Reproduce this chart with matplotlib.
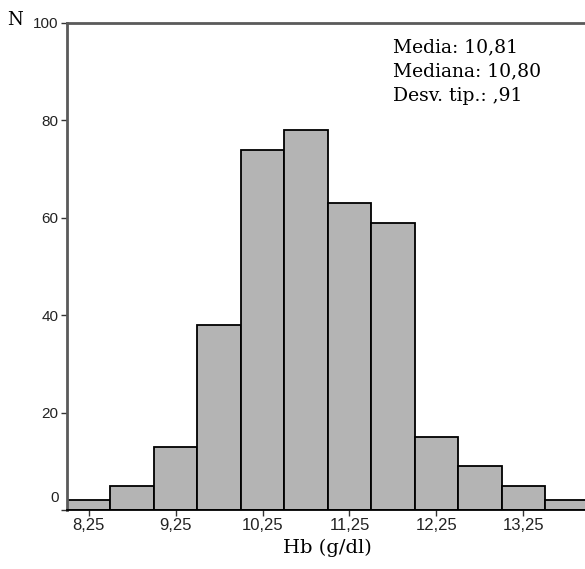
import numpy as np
import matplotlib as mpl
mpl.use('Agg')
import matplotlib.pyplot as plt
import matplotlib.transforms as mtransforms

# histogram of Hb values, bins of 0,5 g/dl starting at 8,0
bin_edges = [8.0, 8.5, 9.0, 9.5, 10.0, 10.5, 11.0, 11.5, 12.0, 12.5, 13.0, 13.5, 14.0]
counts = [2, 5, 13, 38, 74, 78, 63, 59, 15, 9, 5, 2]
xtick_pos = [8.25, 9.25, 10.25, 11.25, 12.25, 13.25]
xtick_labels = ["8,25", "9,25", "10,25", "11,25", "12,25", "13,25"]
ytick_pos = [0, 20, 40, 60, 80, 100]
stats_lines = ["Media: 10,81", "Mediana: 10,80", "Desv. tip.: ,91"]

W, H = 585, 569
fig = plt.figure(figsize=(W / 100, H / 100), dpi=100)
ax = fig.add_axes([67 / W, (H - 510) / H, (W - 67) / W, (510 - 23) / H])

lefts = np.array(bin_edges[:-1])
widths = np.diff(bin_edges)
ax.bar(lefts, counts, width=widths, align='edge', color='#b4b4b4',
       edgecolor='black', linewidth=1.3, zorder=2)

ax.set_xlim(8.0, 8.0 + (W - 66.5) / 87.0)
ax.set_ylim(0, 100)

for side in ['left', 'top']:
    ax.spines[side].set_color('#5a5a5a')
    ax.spines[side].set_linewidth(2.0)
ax.spines['right'].set_visible(False)
ax.spines['bottom'].set_color('black')
ax.spines['bottom'].set_linewidth(1.3)

sans = ['Liberation Sans', 'DejaVu Sans']
serif = ['DejaVu Serif']

ax.set_xticks(xtick_pos)
ax.set_xticklabels(xtick_labels, fontsize=12, family=sans, color='#222222')
ax.set_yticks(ytick_pos)
ax.set_yticklabels([str(v) for v in ytick_pos], fontsize=11, family=sans, color='#222222')
ax.tick_params(axis='both', length=4, width=1.0, color='#333333', pad=2)

# the "0" label sits a little above the baseline in the original
lab0 = ax.get_yticklabels()[0]
lab0.set_transform(lab0.get_transform() + mtransforms.ScaledTranslation(0, 13 / 100, fig.dpi_scale_trans))

fig.text(7 / W, 1 - 20 / H, "N", family=serif, fontsize=13, va='center', ha='left')
fig.text(327 / W, 1 - 548 / H, "Hb (g/dl)", family=serif, fontsize=14, va='center', ha='center')
y0 = 1 - 47 / H
for i, line in enumerate(stats_lines):
    fig.text(393 / W, y0 - i * 24.5 / H, line, family=serif, fontsize=13.5,
             va='center', ha='left')

fig.savefig('out.png', dpi=100)
